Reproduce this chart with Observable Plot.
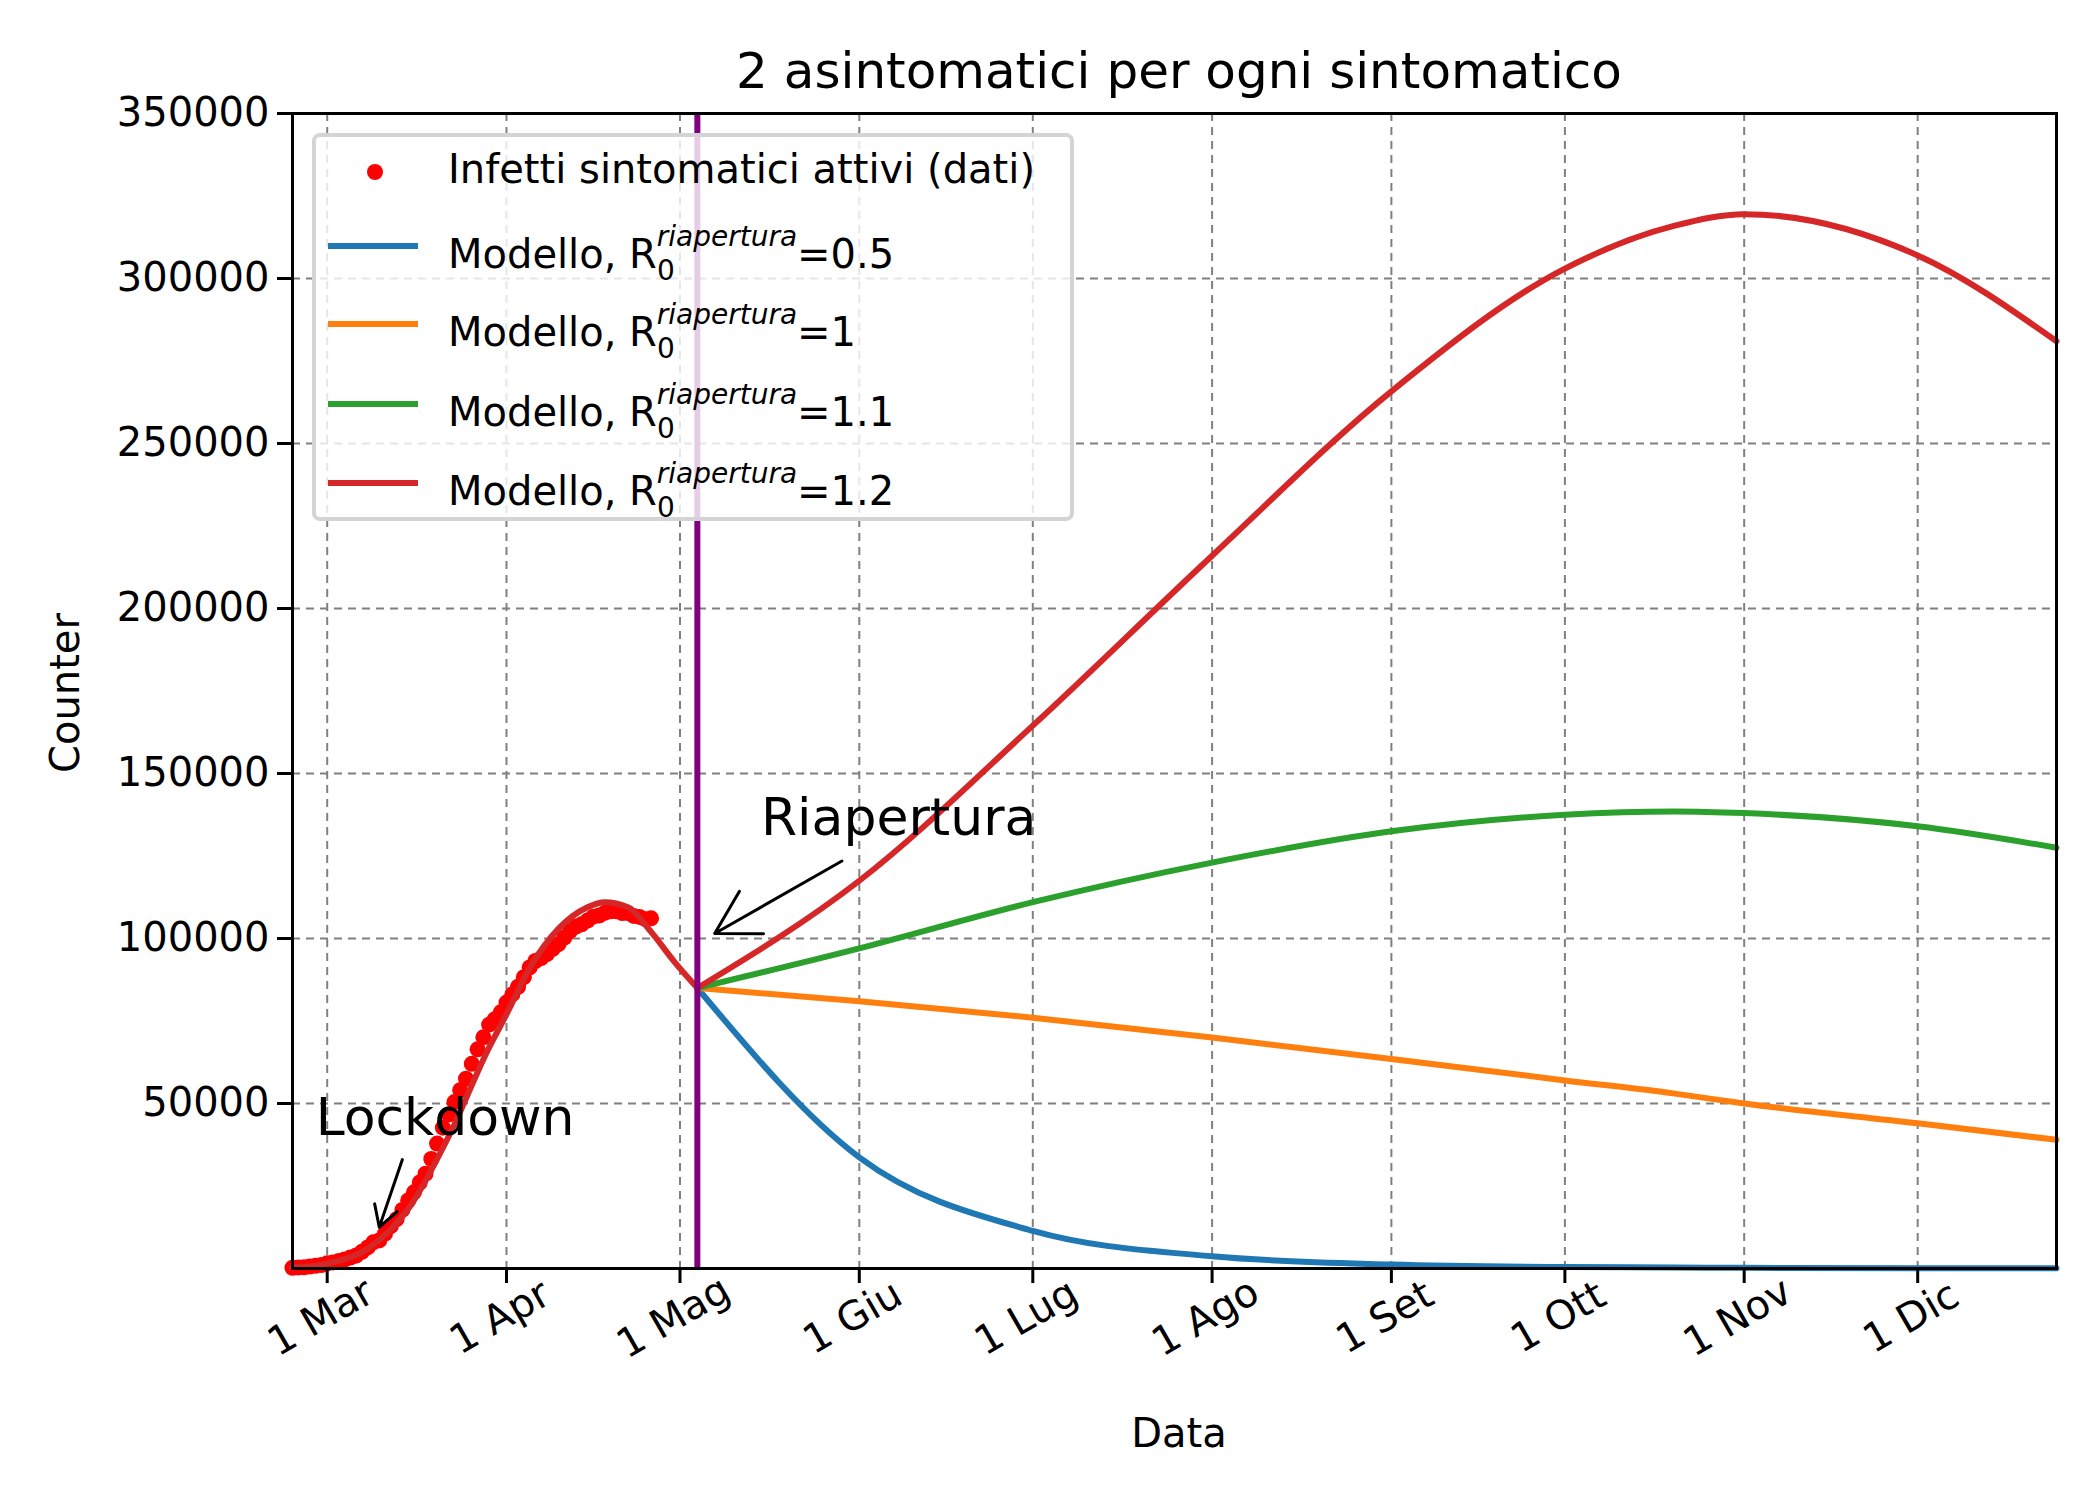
<!DOCTYPE html>
<html><head><meta charset="utf-8">
<script src="https://cdn.jsdelivr.net/npm/d3@7"></script>
<script src="https://cdn.jsdelivr.net/npm/@observablehq/plot@0.6"></script>
<style>
body{margin:0;background:#fff;font-family:"DejaVu Sans",sans-serif}
#wrap{position:relative;width:2100px;height:1500px}
.abs{position:absolute;white-space:nowrap;color:#000}
#legend{position:absolute;left:312px;top:133px;width:762px;height:388px;border:4px solid #d4d4d4;border-radius:8px;background:rgba(255,255,255,0.8);box-sizing:border-box}
.row{position:absolute;left:0;font-size:40px;white-space:nowrap}
.row .sw{position:absolute;left:12px;width:90px;height:6px;top:-3px}
.row .tx{position:absolute;left:132px;top:-26px;white-space:nowrap}
sup{font-style:italic;font-size:28px;vertical-align:22px}
sub{font-size:28px;vertical-align:-12px;margin-right:-18px}
</style></head>
<body><div id="wrap"></div>
<script>
const parse = d3.utcParse("%Y-%m-%d");

// observed active symptomatic cases
const obsStart = "2020-02-24";
const obsValues = [221,311,385,588,821,1049,1577,1835,2263,2706,3296,3916,5061,6387,7985,8514,10590,12839,14955,17750,20603,23073,26062,28710,33190,37860,42681,46638,50418,54030,57521,62013,66414,70065,73880,75528,77635,80572,83049,85388,88274,91246,93187,94067,95262,96877,98273,100269,102253,103616,104291,105418,106607,106962,107771,108257,108237,107709,107699,106848,106527,105847,106103];

// model before reopening (common to all scenarios)
const baseDates = ["2020-02-24","2020-03-01","2020-03-08","2020-03-15","2020-03-22","2020-03-29","2020-04-01","2020-04-05","2020-04-10","2020-04-15","2020-04-18","2020-04-22","2020-04-26","2020-04-30","2020-05-04"];
const baseValues = [300,1500,6000,18000,40000,67000,77000,91000,103000,109500,111000,109500,102000,93000,85000];

// model after reopening
const postDates = ["2020-05-04","2020-06-01","2020-07-01","2020-08-01","2020-09-01","2020-10-01","2020-10-20","2020-11-01","2020-12-01","2020-12-25"];
const r05 = [85000,33700,11400,3700,1200,450,300,200,100,80];
const r10 = [85000,81000,76000,70000,63500,57000,53000,50000,44000,39000];
const r11 = [85000,97000,111000,123000,132500,137500,138500,138000,134000,127500];
const r12 = [85000,117500,164500,216000,265800,303000,316000,319500,307000,281000];

const scenarios = [["0.5", r05, "#1f77b4"], ["1", r10, "#ff7f0e"], ["1.1", r11, "#2ca02c"], ["1.2", r12, "#d62728"]];

const monthTicks = ["2020-03-01","2020-04-01","2020-05-01","2020-06-01","2020-07-01","2020-08-01","2020-09-01","2020-10-01","2020-11-01","2020-12-01"];
const monthLabels = ["1 Mar","1 Apr","1 Mag","1 Giu","1 Lug","1 Ago","1 Set","1 Ott","1 Nov","1 Dic"];
const yTicks = [50000,100000,150000,200000,250000,300000,350000];

const reopening = "2020-05-04";
const annotations = [
  {label: "Lockdown", tx: "2020-02-28", ty: 40500, x1: "2020-03-14", y1: 33000, x2: "2020-03-10", y2: 12500},
  {label: "Riapertura", tx: "2020-05-15", ty: 131500, x1: "2020-05-29", y1: 123500, x2: "2020-05-07", y2: 101500}
];

const obs = obsValues.map((v, i) => ({date: d3.utcDay.offset(parse(obsStart), i), value: v}));
const base = baseDates.map((d, i) => ({date: parse(d), value: baseValues[i]}));
const post = scenarios.flatMap(([r, vals]) => postDates.map((d, i) => ({date: parse(d), value: vals[i], r})));
const ticks = monthTicks.map((d, i) => ({date: parse(d), label: monthLabels[i]}));
const ann = annotations.map(a => ({...a, tx: parse(a.tx), x1: parse(a.x1), x2: parse(a.x2)}));

const chart = Plot.plot({
  width: 2100, height: 1500,
  marginLeft: 292, marginRight: 44, marginTop: 113, marginBottom: 232,
  style: {fontFamily: "DejaVu Sans", fontSize: "40px", background: "white"},
  x: {type: "utc", domain: [parse("2020-02-24"), parse("2020-12-25")]},
  y: {domain: [0, 350000]},
  color: {domain: scenarios.map(s => s[0]), range: scenarios.map(s => s[2])},
  marks: [
    Plot.gridX(ticks.map(t => t.date), {stroke: "#808080", strokeOpacity: 1, strokeWidth: 2, strokeDasharray: "8,6"}),
    Plot.gridY(yTicks, {stroke: "#808080", strokeOpacity: 1, strokeWidth: 2, strokeDasharray: "8,6"}),
    Plot.dot(obs, {x: "date", y: "value", r: 8, fill: "#ff0000"}),
    Plot.line(base, {x: "date", y: "value", stroke: "#d62728", strokeWidth: 6, curve: "monotone-x"}),
    Plot.line(post, {x: "date", y: "value", z: "r", stroke: "r", strokeWidth: 6, curve: "monotone-x"}),
    Plot.ruleX([parse(reopening)], {stroke: "#800080", strokeWidth: 6}),
    Plot.arrow(ann, {x1: "x1", y1: "y1", x2: "x2", y2: "y2", stroke: "black", strokeWidth: 3, headLength: 25}),
    Plot.text(ann, {x: "tx", y: "ty", text: "label", textAnchor: "start", fontSize: 52, lineAnchor: "bottom"}),
    Plot.axisX({ticks: ticks.map(t => t.date), tickFormat: () => "", tickSize: 15, strokeWidth: 3, label: null}),
    Plot.text(ticks, {x: "date", frameAnchor: "bottom", text: "label", rotate: -30, dy: 60, fontSize: 40}),
    Plot.axisY({ticks: yTicks, tickFormat: d => String(d), tickSize: 15, tickPadding: 8, strokeWidth: 3, label: null, fontSize: 40}),
    Plot.frame({stroke: "black", strokeWidth: 3})
  ]
});

const wrap = document.getElementById("wrap");
wrap.appendChild(chart);
chart.style.position = "absolute"; chart.style.left = "0"; chart.style.top = "0";

function add(html, css) {
  const d = document.createElement("div");
  d.className = "abs"; d.innerHTML = html; Object.assign(d.style, css); wrap.appendChild(d);
  return d;
}
add("2 asintomatici per ogni sintomatico", {left: "1179px", top: "42px", fontSize: "50px", transform: "translateX(-50%)"});
add("Data", {left: "1179px", top: "1410px", fontSize: "40px", transform: "translateX(-50%)"});
add("Counter", {left: "65px", top: "693px", fontSize: "40px", transform: "translate(-50%,-50%) rotate(-90deg)"});

const legend = document.createElement("div");
legend.id = "legend";
wrap.appendChild(legend);
const rowTops = [35, 109, 187, 267, 346];
let html = `<div class="row" style="top:${rowTops[0]}px"><div style="position:absolute;left:51px;top:-8px;width:16px;height:16px;border-radius:50%;background:#ff0000"></div><div class="tx">Infetti sintomatici attivi (dati)</div></div>`;
scenarios.forEach(([r, , c], i) => {
  html += `<div class="row" style="top:${rowTops[i + 1]}px"><div class="sw" style="background:${c}"></div><div class="tx">Modello, R<sub>0</sub><sup>riapertura</sup>=${r}</div></div>`;
});
legend.innerHTML = html;
</script></body></html>
